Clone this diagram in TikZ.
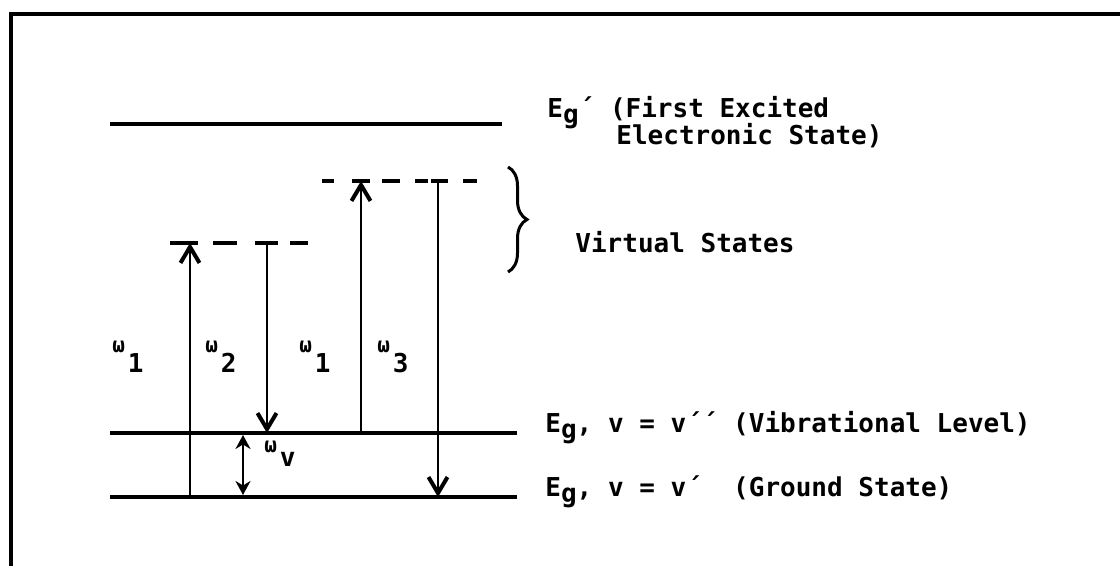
\documentclass[tikz,border=0pt]{standalone}
\usepackage{fontspec}
\setmonofont{DejaVu Sans Mono}
\usetikzlibrary{arrows.meta,decorations.pathreplacing}
\newcommand{\Eg}{E\raisebox{-3pt}{g}}
\newcommand{\wsub}[2][10pt]{\raisebox{#1}{\fontsize{10.5}{10}\selectfont ω}\kern1.5pt#2}

\begin{document}
\begin{tikzpicture}[
  x=0.5pt, y=-0.5pt,
  level/.style={line width=1.8pt},
  virt/.style={line width=2pt},
  arr/.style={line width=1.4pt, -{Straight Barb[length=8pt,width=9.5pt,line width=2pt]}},
  dbl/.style={line width=1.4pt, {Stealth[length=7pt,width=7.5pt]}-{Stealth[length=7pt,width=7.5pt]}},
  txt/.style={inner sep=0pt, anchor=base west, font=\ttfamily\bfseries\fontsize{13}{16}\selectfont},
  lbl/.style={inner sep=0pt, anchor=base, font=\ttfamily\bfseries\fontsize{13}{16}\selectfont},
]
  \useasboundingbox (0,0) rectangle (1120,566);
  \fill[white] (-20,-20) rectangle (1140,586);
  % frame
  \draw[line width=2pt] (10.5,586) -- (10.5,14) -- (1140,14);

  % energy levels
  \coordinate (exL) at (110,124);  \coordinate (exR) at (502,124);
  \coordinate (vbL) at (110,433);  \coordinate (vbR) at (517,433);
  \coordinate (gsL) at (110,497);  \coordinate (gsR) at (517,497);
  \draw[level] (exL) -- (exR);
  \draw[level] (vbL) -- (vbR);
  \draw[level] (gsL) -- (gsR);

  % virtual states
  \foreach \a/\b in {170/198, 213/237, 255/278, 290/308}
    \draw[virt] (\a,243) -- (\b,243);
  \foreach \a/\b in {322/334, 352/370, 382/400, 415/428, 431/448, 463/477}
    \draw[virt] (\a,181) -- (\b,181);

  % transitions
  \coordinate (w1a) at (190,497);  \coordinate (w1b) at (190,243);
  \coordinate (w2a) at (267,243);  \coordinate (w2b) at (267,433);
  \coordinate (w3a) at (361,433);  \coordinate (w3b) at (361,181);
  \coordinate (w4a) at (438,181);  \coordinate (w4b) at (438,497);
  \coordinate (wva) at (243,435);  \coordinate (wvb) at (243,495);
  \draw[arr] (w1a) -- (w1b);
  \draw[arr] (w2a) -- (w2b);
  \draw[arr] (w3a) -- (w3b);
  \draw[arr] (w4a) -- (w4b);
  \draw[dbl] (wva) -- (wvb);

  \node[lbl] (lw1) at (128,373) {\wsub{1}};
  \node[lbl] (lw2) at (221,373) {\wsub{2}};
  \node[lbl] (lw3) at (315,373) {\wsub{1}};
  \node[lbl] (lw4) at (393,373) {\wsub{3}};
  \node[lbl] (lwv) at (280,467) {\wsub[7pt]{v}};

  % brace
  \coordinate (br1) at (508,167);  \coordinate (br2) at (508,272);
  \draw[line width=1.5pt, decorate, decoration={brace, amplitude=9.5pt}] (br1) -- (br2);

  % level names
  \node[txt] (tex1) at (547,118) {\Eg´ (First Excited};
  \node[txt] (tex2) at (616,145) {Electronic State)};
  \node[txt] (tvs) at (575,253) {Virtual States};
  \node[txt] (tvb) at (545,433) {\Eg, v = v´´ (Vibrational Level)};
  \node[txt] (tgs) at (545,497) {\Eg, v = v´\ \ (Ground State)};
\end{tikzpicture}
\end{document}
